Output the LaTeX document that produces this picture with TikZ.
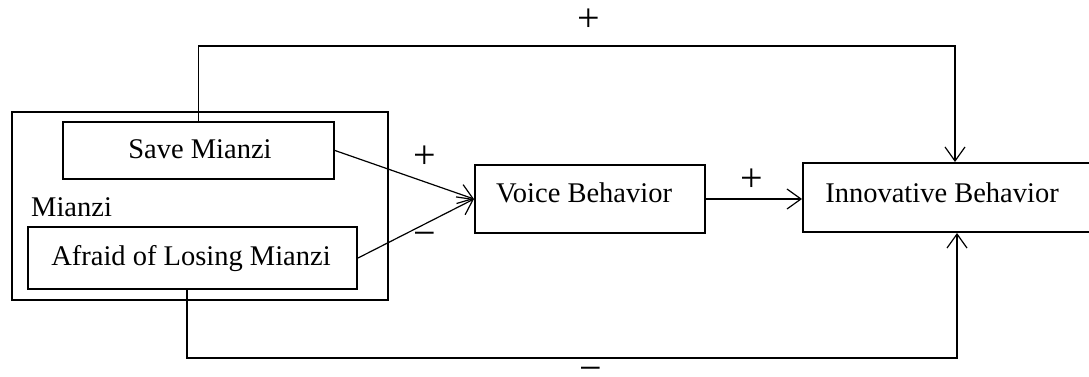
\documentclass[tikz,border=0pt]{standalone}
\usepackage{fontspec}
\setmainfont{Liberation Serif}
\usetikzlibrary{arrows.meta}
\begin{document}
\begin{tikzpicture}[x=1pt,y=-1pt,
  box/.style={draw, line width=2pt, inner sep=0pt},
  lbl/.style={font=\fontsize{28.5}{32}\selectfont, anchor=base, inner sep=0pt},
  sign/.style={font=\fontsize{40}{44}\selectfont, inner sep=0pt},
  conn/.style={line width=1.2pt, -{Straight Barb[length=14pt,width=20pt,line width=1.2pt]}}]
\useasboundingbox (0,0) rectangle (1089,376);
% boxes
\node[box, minimum width=376pt, minimum height=188pt] (outer) at (200,206) {};
\node[box, minimum width=271pt, minimum height=57pt] (save) at (198.5,150.5) {};
\node[box, minimum width=329pt, minimum height=62pt] (afraid) at (192.5,258) {};
\node[box, minimum width=230pt, minimum height=68pt] (vb) at (590,199) {};
\node[box, minimum width=292pt, minimum height=69pt] (ib) at (949,197.5) {};
% texts
\node[lbl] (savet) at (200,158) {Save Mianzi};
\node[lbl, anchor=base west] (mianzit) at (31,216) {Mianzi};
\node[lbl] (afraidt) at (191,265) {Afraid of Losing Mianzi};
\node[lbl] (vbt) at (584,202) {Voice Behavior};
\node[lbl] (ibt) at (942,202) {Innovative Behavior};
% connectors
\coordinate (tc) at (955,46);
\coordinate (bc) at (957,358);
\draw[conn] (save.north) |- (tc) -- (tc |- ib.north);
\draw[conn] ([xshift=-5.5pt]afraid.south) |- (bc) -- (bc |- ib.south);
\draw[conn] (save.east) -- (vb.west);
\draw[conn] (afraid.east) -- (vb.west);
\draw[conn] (vb.east) -- (vb.east -| ib.west);
% signs
\node[sign] (ptop) at (589,20) {+};
\node[sign] (mbot) at (591,374) {−};
\node[sign] (psave) at (425,157) {+};
\node[sign] (mafraid) at (425,239) {−};
\node[sign] (pvb) at (752,180) {+};
\end{tikzpicture}
\end{document}
